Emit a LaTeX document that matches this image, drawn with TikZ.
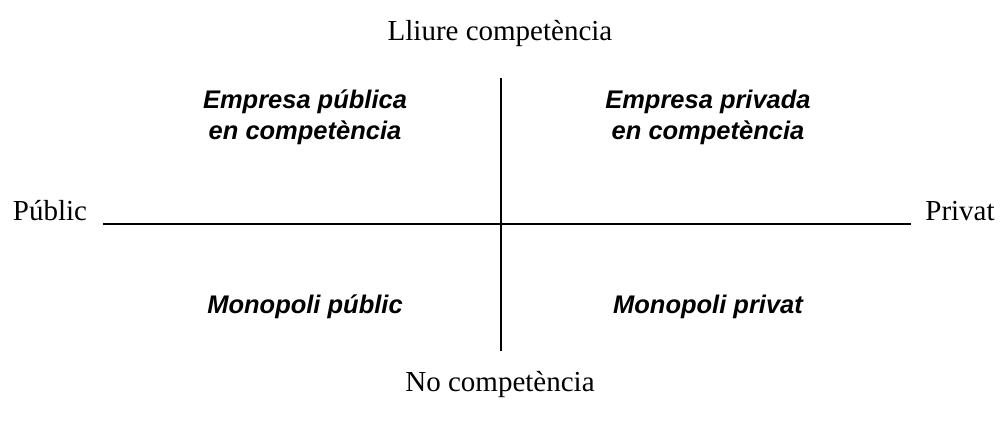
\documentclass[tikz,border=0pt]{standalone}
\usepackage{fontspec}
\setmainfont{Liberation Serif}
\newfontfamily\arialf{Liberation Sans}
\begin{document}
\begin{tikzpicture}[
  axislabel/.style={font=\fontsize{16.5}{19.5}\selectfont, inner sep=0pt},
  quadlabel/.style={font=\arialf\bfseries\itshape\fontsize{14.5}{17.5}\selectfont, align=center, inner sep=0pt},
  axisline/.style={line width=0.8pt, black}
]
\useasboundingbox (0,0) rectangle (20,8.42);
\coordinate (vtop) at (10.02,6.86);
\coordinate (vbot) at (10.02,1.40);
\coordinate (hleft) at (2.06,3.94);
\coordinate (hright) at (18.22,3.94);
\draw[axisline] (vtop) -- (vbot);
\draw[axisline] (hleft) -- (hright);
\node[axislabel] (top) at (10.0,7.74) {Lliure competència};
\node[axislabel] (bottom) at (10.0,0.73) {No competència};
\node[axislabel] (left) at (1.0,4.2) {Públic};
\node[axislabel] (right) at (19.2,4.2) {Privat};
\node[quadlabel] (q1) at (6.1,6.07) {Empresa pública\\en competència};
\node[quadlabel] (q2) at (14.16,6.07) {Empresa privada\\en competència};
\node[quadlabel] (q3) at (6.1,2.29) {Monopoli públic};
\node[quadlabel] (q4) at (14.16,2.29) {Monopoli privat};
\end{tikzpicture}
\end{document}
